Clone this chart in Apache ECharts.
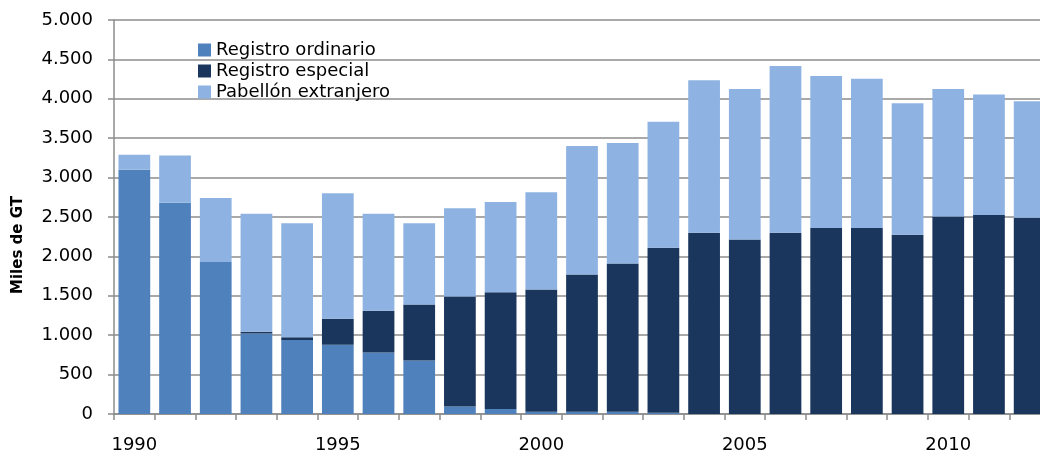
<!DOCTYPE html>
<html>
<head>
<meta charset="utf-8">
<script src="https://cdn.jsdelivr.net/npm/echarts@6/dist/echarts.min.js"></script>
<style>
    html, body { margin: 0; padding: 0; background: #ffffff; }
    #graphDiv { width: 1040px; height: 456px; }
</style>
</head>
<body>
<div id="graphDiv"></div>
<script>
const years = ['1990', '1991', '1992', '1993', '1994', '1995', '1996', '1997', '1998', '1999', '2000',
    '2001', '2002', '2003', '2004', '2005', '2006', '2007', '2008', '2009', '2010', '2011', '2012']

// Miles de GT
const registroOrdinario = [3100, 2680, 1930, 1020, 940, 880, 780, 680, 95, 65, 30,
    30, 30, 15, 0, 0, 0, 0, 0, 0, 0, 0, 0]
const registroEspecial = [0, 0, 0, 25, 35, 330, 530, 710, 1395, 1480, 1550,
    1740, 1880, 2095, 2300, 2215, 2300, 2360, 2360, 2275, 2505, 2525, 2490]
const pabellonExtranjero = [190, 600, 810, 1495, 1445, 1590, 1230, 1030, 1120, 1145, 1235,
    1630, 1530, 1600, 1935, 1910, 2115, 1930, 1895, 1670, 1620, 1530, 1480]

const fontFamily = '"DejaVu Sans", Verdana, sans-serif'
const gridColor = '#8c8c8c'

let graph = echarts.init(document.getElementById('graphDiv'), null, { renderer: 'canvas' })

function thousands(value) {
    return String(value).replace(/\B(?=(\d{3})+(?!\d))/g, '.')
}

let barSeries = (name, data, color) => ({
    name: name,
    type: 'bar',
    stack: 'total',
    data: data,
    barCategoryGap: '22%',
    itemStyle: {
        color: color
    },
    emphasis: { disabled: true }
})

let options = {
    animation: false,
    textStyle: { fontFamily: fontFamily },
    // the last bar runs past the right edge of the picture
    grid: {
        left: 114,
        right: -10,
        top: 20,
        bottom: 42,
        outerBoundsMode: 'none',
    },
    legend: {
        orient: 'vertical',
        left: 193,
        top: 36,
        itemWidth: 13,
        itemHeight: 13,
        itemGap: 3,
        icon: 'rect',
        textStyle: {
            fontFamily: fontFamily,
            fontSize: 18,
            lineHeight: 18,
            color: '#000000',
        },
        data: ['Registro ordinario', 'Registro especial', 'Pabellón extranjero']
    },
    xAxis: {
        type: 'category',
        data: years,
        axisLine: { lineStyle: { color: gridColor, width: 1.5 } },
        axisTick: {
            show: true,
            interval: 0,
            length: 6,
            lineStyle: { color: gridColor, width: 1.5 }
        },
        axisLabel: {
            interval: 4,
            margin: 22,
            fontSize: 18,
            color: '#000000',
            fontFamily: fontFamily
        }
    },
    yAxis: {
        type: 'value',
        min: 0,
        max: 5000,
        interval: 500,
        axisLine: { show: true, lineStyle: { color: gridColor, width: 1.5 } },
        axisTick: { show: true, length: 6, lineStyle: { color: gridColor, width: 1.5 } },
        splitLine: { lineStyle: { color: gridColor, width: 1.5 } },
        axisLabel: {
            margin: 21,
            fontSize: 18,
            color: '#000000',
            fontFamily: fontFamily,
            formatter: thousands
        }
    },
    graphic: [
        {
            type: 'text',
            x: 18,
            y: 245,
            rotation: Math.PI / 2,
            style: {
                text: 'Miles de GT',
                font: 'bold 15px ' + fontFamily,
                fill: '#000000',
                textAlign: 'center',
                textVerticalAlign: 'middle'
            }
        }
    ],
    series: [
        barSeries('Registro ordinario', registroOrdinario, '#4f81bd'),
        barSeries('Registro especial', registroEspecial, '#1a365d'),
        barSeries('Pabellón extranjero', pabellonExtranjero, '#8eb3e2'),
    ]
}

graph.setOption(options)
</script>
</body>
</html>
